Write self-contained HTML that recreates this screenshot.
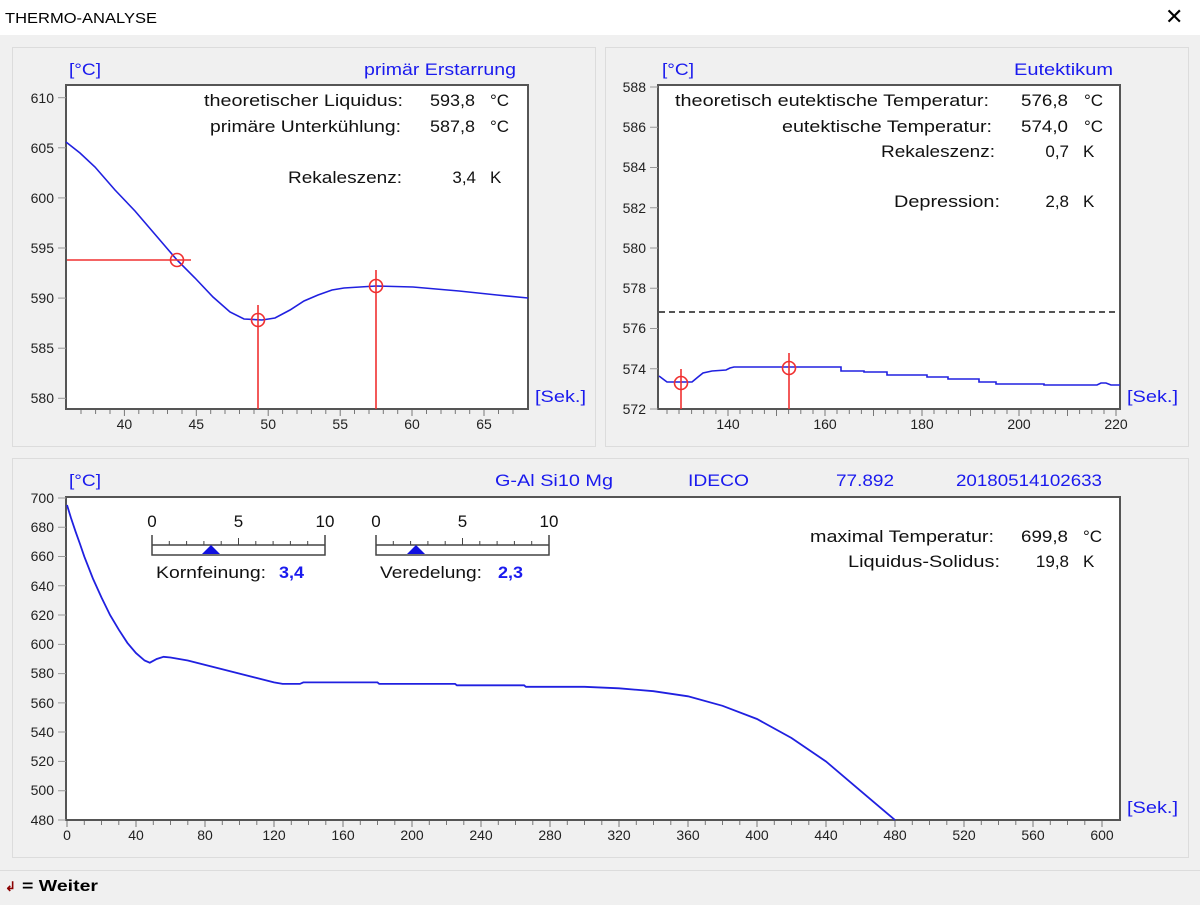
<!DOCTYPE html>
<html><head><meta charset="utf-8"><style>
body{margin:0;width:1200px;height:900px;overflow:hidden;background:#f0f0f0;font-family:"Liberation Sans",sans-serif}
svg text{font-family:"Liberation Sans",sans-serif}
</style></head><body>
<svg width="1200" height="900" xmlns="http://www.w3.org/2000/svg">
<rect x="0" y="0" width="1200" height="35" fill="#fff"/>
<text x="5" y="23" font-size="15" fill="#000" textLength="152" lengthAdjust="spacingAndGlyphs">THERMO-ANALYSE</text>
<text x="1165" y="24" font-size="22" fill="#000">✕</text>
<rect x="12.5" y="47.5" width="583" height="399" fill="#f0f0f0" stroke="#dcdcdc"/>
<rect x="605.5" y="47.5" width="583" height="399" fill="#f0f0f0" stroke="#dcdcdc"/>
<rect x="12.5" y="458.5" width="1176" height="399" fill="#f0f0f0" stroke="#dcdcdc"/>
<line x1="0" y1="870.5" x2="1200" y2="870.5" stroke="#dcdcdc"/>
<text x="5" y="891" font-size="13" fill="#8b0000" font-weight="bold">↲</text>
<text x="22" y="891" font-size="16" font-weight="bold" fill="#000" textLength="76" lengthAdjust="spacingAndGlyphs">= Weiter</text>

<!-- TOP LEFT -->
<g font-size="17" fill="#1a1aee">
<text x="69" y="75" textLength="32" lengthAdjust="spacingAndGlyphs">[°C]</text>
<text x="516" y="75" text-anchor="end" textLength="152" lengthAdjust="spacingAndGlyphs">primär Erstarrung</text>
<text x="535" y="402" textLength="51" lengthAdjust="spacingAndGlyphs">[Sek.]</text>
</g>
<rect x="66" y="85" width="462" height="324" fill="#fff" stroke="#555" stroke-width="2"/>
<g font-size="14" fill="#222" text-anchor="end">
<text x="54" y="103">610</text><text x="54" y="153">605</text><text x="54" y="203">600</text><text x="54" y="253">595</text><text x="54" y="303">590</text><text x="54" y="353">585</text><text x="54" y="403">580</text>
</g>
<g stroke="#999"><line x1="58" y1="97.7" x2="66" y2="97.7"/><line x1="58" y1="147.8" x2="66" y2="147.8"/><line x1="58" y1="197.9" x2="66" y2="197.9"/><line x1="58" y1="248" x2="66" y2="248"/><line x1="58" y1="298.1" x2="66" y2="298.1"/><line x1="58" y1="348.2" x2="66" y2="348.2"/><line x1="58" y1="398.3" x2="66" y2="398.3"/></g>
<g stroke="#777">
<path d="M81 410v4M95.6 410v4M110 410v4M124.4 410v6M138.8 410v4M153.2 410v4M167.5 410v4M182 410v4M196.3 410v6M210.7 410v4M225 410v4M239.5 410v4M254 410v4M268.2 410v6M282.6 410v4M297 410v4M311.4 410v4M325.8 410v4M340.2 410v6M354.5 410v4M369 410v4M383.3 410v4M397.7 410v4M412 410v6M426.5 410v4M441 410v4M455.3 410v4M469.7 410v4M484 410v6M498.5 410v4M513 410v4"/>
</g>
<g font-size="14" fill="#222" text-anchor="middle">
<text x="124.4" y="429">40</text><text x="196.3" y="429">45</text><text x="268.2" y="429">50</text><text x="340.2" y="429">55</text><text x="412" y="429">60</text><text x="484" y="429">65</text>
</g>
<polyline fill="none" stroke="#2020e0" stroke-width="1.6" points="66,142 80,153 95,167 115,190 135,211 153,232 165,246 177,260 195,278 213,297 230,312 244,319 262,320 275,318 290,310 304,301 318,295 332,290 344,288 376,286 413,287 459,291 497,295 528,298"/>
<g stroke="#f03030" stroke-width="1.6" fill="none">
<line x1="67" y1="260" x2="191" y2="260"/>
<line x1="258" y1="305" x2="258" y2="409"/>
<line x1="376" y1="270" x2="376" y2="409"/>
<circle cx="177" cy="260" r="6.5"/><circle cx="258" cy="320" r="6.5"/><circle cx="376" cy="286" r="6.5"/>
</g>
<g font-size="17" fill="#111">
<text x="403" y="106" text-anchor="end" textLength="199" lengthAdjust="spacingAndGlyphs">theoretischer Liquidus:</text><text x="475" y="106" text-anchor="end" textLength="45" lengthAdjust="spacingAndGlyphs">593,8</text><text x="490" y="106">°C</text>
<text x="401" y="132" text-anchor="end" textLength="191" lengthAdjust="spacingAndGlyphs">primäre Unterkühlung:</text><text x="475" y="132" text-anchor="end" textLength="45" lengthAdjust="spacingAndGlyphs">587,8</text><text x="490" y="132">°C</text>
<text x="402" y="183" text-anchor="end" textLength="114" lengthAdjust="spacingAndGlyphs">Rekaleszenz:</text><text x="476" y="183" text-anchor="end">3,4</text><text x="490" y="183">K</text>
</g>

<!-- TOP RIGHT -->
<g font-size="17" fill="#1a1aee">
<text x="662" y="75" textLength="32" lengthAdjust="spacingAndGlyphs">[°C]</text>
<text x="1113" y="75" text-anchor="end" textLength="99" lengthAdjust="spacingAndGlyphs">Eutektikum</text>
<text x="1127" y="402" textLength="51" lengthAdjust="spacingAndGlyphs">[Sek.]</text>
</g>
<rect x="658" y="85" width="462" height="324" fill="#fff" stroke="#555" stroke-width="2"/>
<g font-size="14" fill="#222" text-anchor="end">
<text x="646" y="92">588</text><text x="646" y="132">586</text><text x="646" y="172">584</text><text x="646" y="213">582</text><text x="646" y="253">580</text><text x="646" y="293">578</text><text x="646" y="333">576</text><text x="646" y="374">574</text><text x="646" y="414">572</text>
</g>
<g stroke="#999"><path d="M650 87h8M650 127.2h8M650 167.5h8M650 207.7h8M650 248h8M650 288.2h8M650 328.5h8M650 368.7h8M650 409h8"/></g>
<g stroke="#777"><path d="M667 410v4M679 410v4M691.6 410v4M703.7 410v4M715.9 410v4M728 410v6M740 410v4M752.3 410v4M764.4 410v4M776.5 410v6M788.6 410v4M800.8 410v4M813 410v4M825 410v6M837 410v4M849.3 410v4M861.4 410v4M873.5 410v6M885.6 410v4M897.8 410v4M910 410v4M922 410v6M934 410v4M946.3 410v4M958.4 410v4M970.5 410v6M982.6 410v4M994.8 410v4M1007 410v4M1019 410v6M1031 410v4M1043.3 410v4M1055.4 410v4M1067.5 410v6M1079.6 410v4M1091.8 410v4M1104 410v4M1116 410v6"/></g>
<g font-size="14" fill="#222" text-anchor="middle">
<text x="728" y="429">140</text><text x="825" y="429">160</text><text x="922" y="429">180</text><text x="1019" y="429">200</text><text x="1116" y="429">220</text>
</g>
<line x1="659" y1="312" x2="1120" y2="312" stroke="#555" stroke-width="2" stroke-dasharray="6,4"/>
<polyline fill="none" stroke="#2020e0" stroke-width="1.6" points="659,376 667,382 692,382 698,377 703,373 712,371 726,370 730,368 734,367 841,367 841,371 864,371 864,372 887,372 887,375 927,375 927,377 948,377 948,379 979,379 979,382 996,382 996,384 1044,384 1044,385 1097,385 1101,383 1106,383 1111,385 1120,385"/>
<g stroke="#f03030" stroke-width="1.6" fill="none">
<line x1="681" y1="369" x2="681" y2="409"/>
<line x1="789" y1="353" x2="789" y2="409"/>
<circle cx="681" cy="383" r="6.5"/><circle cx="789" cy="368" r="6.5"/>
</g>
<g font-size="17" fill="#111">
<text x="989" y="106" text-anchor="end" textLength="314" lengthAdjust="spacingAndGlyphs">theoretisch eutektische Temperatur:</text><text x="1068" y="106" text-anchor="end" textLength="47" lengthAdjust="spacingAndGlyphs">576,8</text><text x="1084" y="106">°C</text>
<text x="992" y="132" text-anchor="end" textLength="210" lengthAdjust="spacingAndGlyphs">eutektische Temperatur:</text><text x="1068" y="132" text-anchor="end" textLength="47" lengthAdjust="spacingAndGlyphs">574,0</text><text x="1084" y="132">°C</text>
<text x="995" y="157" text-anchor="end" textLength="114" lengthAdjust="spacingAndGlyphs">Rekaleszenz:</text><text x="1069" y="157" text-anchor="end">0,7</text><text x="1083" y="157">K</text>
<text x="1000" y="207" text-anchor="end" textLength="106" lengthAdjust="spacingAndGlyphs">Depression:</text><text x="1069" y="207" text-anchor="end">2,8</text><text x="1083" y="207">K</text>
</g>

<!-- BOTTOM -->
<g font-size="17" fill="#1a1aee">
<text x="69" y="486" textLength="32" lengthAdjust="spacingAndGlyphs">[°C]</text>
<text x="495" y="486" textLength="118" lengthAdjust="spacingAndGlyphs">G-Al Si10 Mg</text>
<text x="688" y="486" textLength="61" lengthAdjust="spacingAndGlyphs">IDECO</text>
<text x="836" y="486" textLength="58" lengthAdjust="spacingAndGlyphs">77.892</text>
<text x="956" y="486" textLength="146" lengthAdjust="spacingAndGlyphs">20180514102633</text>
<text x="1127" y="813" textLength="51" lengthAdjust="spacingAndGlyphs">[Sek.]</text>
</g>
<rect x="66" y="497" width="1054" height="323" fill="#fff" stroke="#555" stroke-width="2"/>
<g font-size="14" fill="#222" text-anchor="end">
<text x="54" y="503">700</text><text x="54" y="532">680</text><text x="54" y="561">660</text><text x="54" y="591">640</text><text x="54" y="620">620</text><text x="54" y="649">600</text><text x="54" y="678">580</text><text x="54" y="708">560</text><text x="54" y="737">540</text><text x="54" y="766">520</text><text x="54" y="795">500</text><text x="54" y="825">480</text>
</g>
<g stroke="#999"><path d="M58 498h8M58 527.3h8M58 556.5h8M58 585.8h8M58 615h8M58 644.4h8M58 673.6h8M58 702.9h8M58 732h8M58 761.4h8M58 790.7h8M58 820h8"/></g>
<path stroke="#777" d="M67 821v6M84.3 821v4M101.5 821v4M118.8 821v4M136 821v6M153.3 821v4M170.5 821v4M187.8 821v4M205 821v6M222.3 821v4M239.5 821v4M256.8 821v4M274 821v6M291.3 821v4M308.5 821v4M325.8 821v4M343 821v6M360.3 821v4M377.5 821v4M394.8 821v4M412 821v6M429.3 821v4M446.5 821v4M463.8 821v4M481 821v6M498.3 821v4M515.5 821v4M532.8 821v4M550 821v6M567.3 821v4M584.5 821v4M601.8 821v4M619 821v6M636.3 821v4M653.5 821v4M670.8 821v4M688 821v6M705.3 821v4M722.5 821v4M739.8 821v4M757 821v6M774.3 821v4M791.5 821v4M808.8 821v4M826 821v6M843.3 821v4M860.5 821v4M877.8 821v4M895 821v6M912.3 821v4M929.5 821v4M946.8 821v4M964 821v6M981.3 821v4M998.5 821v4M1015.8 821v4M1033 821v6M1050.3 821v4M1067.5 821v4M1084.8 821v4M1102 821v6"/>
<g font-size="14" fill="#222" text-anchor="middle">
<text x="67" y="840">0</text><text x="136" y="840">40</text><text x="205" y="840">80</text><text x="274" y="840">120</text><text x="343" y="840">160</text><text x="412" y="840">200</text><text x="481" y="840">240</text><text x="550" y="840">280</text><text x="619" y="840">320</text><text x="688" y="840">360</text><text x="757" y="840">400</text><text x="826" y="840">440</text><text x="895" y="840">480</text><text x="964" y="840">520</text><text x="1033" y="840">560</text><text x="1102" y="840">600</text>
</g>
<polyline fill="none" stroke="#2020e0" stroke-width="1.8" points="67,505 71,518 75.6,531.7 80,544 84.3,556.6 92.9,578.5 101.5,597.5 110.1,615.1 118.8,629.7 127.4,642.9 136,653.1 144.6,660.5 149.8,662.7 156.7,659 163.6,656.8 170.5,657.5 187.8,660.5 205,664.9 222.3,669.2 239.5,673.6 256.8,678 274,682.4 282.6,683.9 299.9,683.9 303.3,682.4 377.5,682.4 379.2,683.9 455.1,683.9 456.9,685.3 524.1,685.3 525.9,686.8 584.5,686.8 619,688.3 653.5,691.2 688,696.3 722.5,705.8 757,719 791.5,738 826,761.5 860.5,790.8 895,820"/>
<!-- sliders -->
<g stroke="#444" stroke-width="1.5" fill="none">
<path d="M152 535v20h173v-20M152 545h173"/>
<path d="M376 535v20h173v-20M376 545h173"/>
</g>
<path stroke="#444" d="M169.3 541v4M186.6 541v4M203.9 541v4M221.2 541v4M238.5 538v7M255.8 541v4M273.1 541v4M290.4 541v4M307.7 541v4M393.3 541v4M410.6 541v4M427.9 541v4M445.2 541v4M462.5 538v7M479.8 541v4M497.1 541v4M514.4 541v4M531.7 541v4"/>
<path d="M211 545l9 9h-18z" fill="#1010e0"/>
<path d="M416 545l9 9h-18z" fill="#1010e0"/>
<g font-size="17" fill="#111" text-anchor="middle">
<text x="152" y="527">0</text><text x="238.5" y="527">5</text><text x="325" y="527">10</text>
<text x="376" y="527">0</text><text x="462.5" y="527">5</text><text x="549" y="527">10</text>
</g>
<text x="156" y="578" font-size="17" fill="#111" textLength="110" lengthAdjust="spacingAndGlyphs">Kornfeinung:</text>
<text x="279" y="578" font-size="17" font-weight="bold" fill="#1a1aee" textLength="25" lengthAdjust="spacingAndGlyphs">3,4</text>
<text x="380" y="578" font-size="17" fill="#111" textLength="102" lengthAdjust="spacingAndGlyphs">Veredelung:</text>
<text x="498" y="578" font-size="17" font-weight="bold" fill="#1a1aee" textLength="25" lengthAdjust="spacingAndGlyphs">2,3</text>
<g font-size="17" fill="#111">
<text x="994" y="542" text-anchor="end" textLength="184" lengthAdjust="spacingAndGlyphs">maximal Temperatur:</text><text x="1068" y="542" text-anchor="end" textLength="47" lengthAdjust="spacingAndGlyphs">699,8</text><text x="1083" y="542">°C</text>
<text x="1000" y="567" text-anchor="end" textLength="152" lengthAdjust="spacingAndGlyphs">Liquidus-Solidus:</text><text x="1069" y="567" text-anchor="end">19,8</text><text x="1083" y="567">K</text>
</g>
</svg>
</body></html>
